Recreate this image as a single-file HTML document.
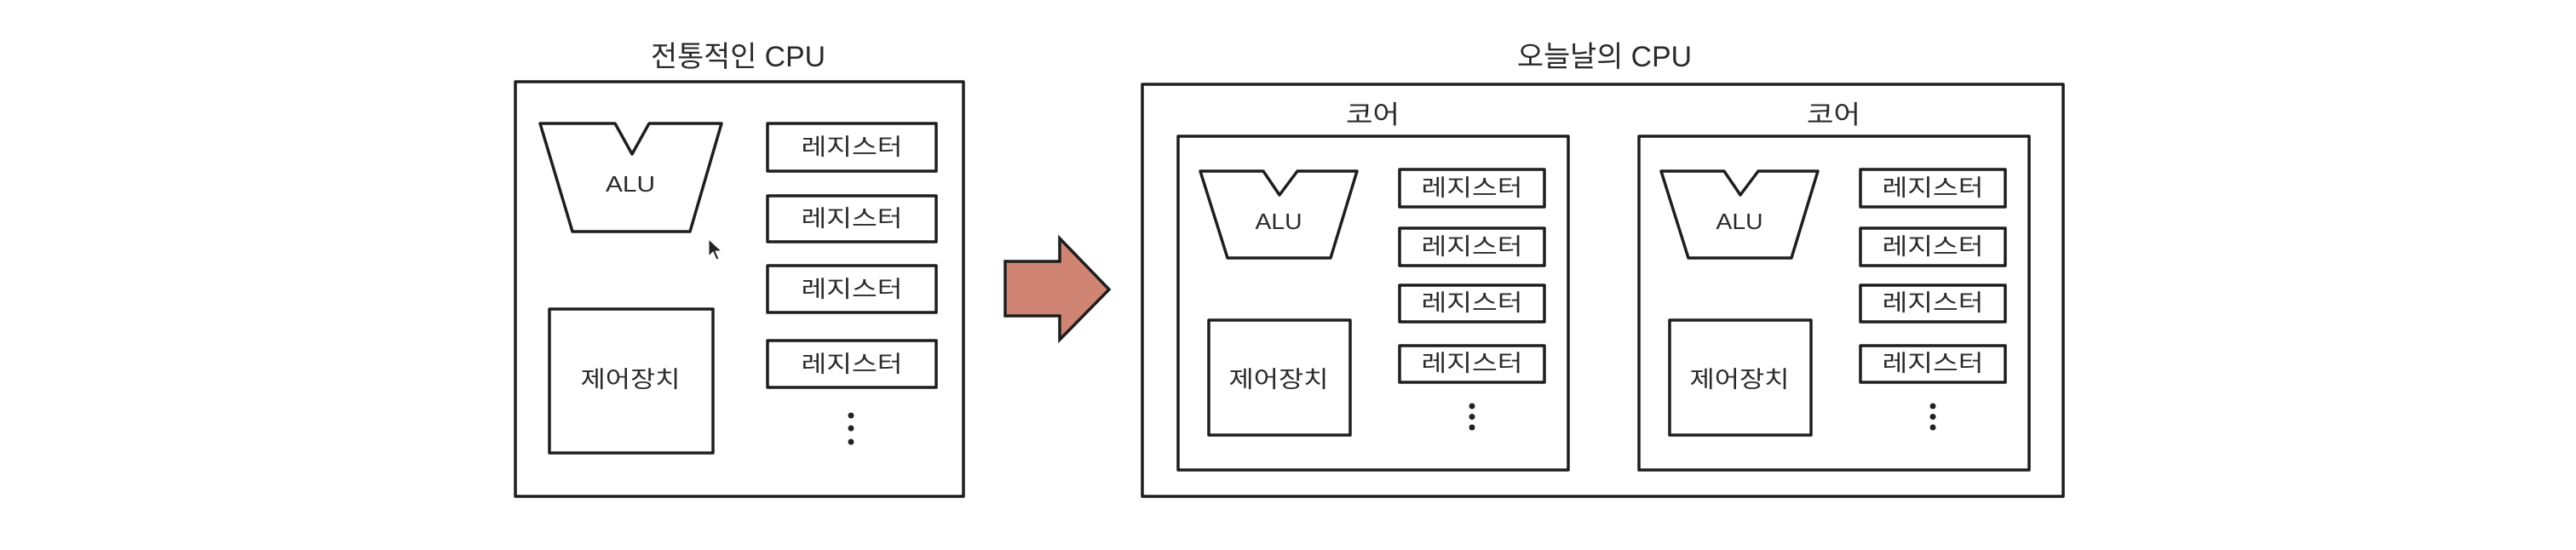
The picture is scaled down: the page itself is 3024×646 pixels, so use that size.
<!DOCTYPE html>
<html><head><meta charset="utf-8"><style>
html,body{margin:0;padding:0;background:#fff;}
svg{display:block;}
text{font-family:"Liberation Sans","Noto Sans CJK KR",sans-serif;fill:#2a2a2a;}
</style></head><body>
<svg width="3024" height="646" viewBox="0 0 3024 646" xmlns="http://www.w3.org/2000/svg">
<rect width="3024" height="646" fill="#fff"/>
<g fill="none" stroke="#1e1e1e" stroke-width="3.5" stroke-linejoin="round">
<!-- left CPU -->
<rect x="605" y="96" width="526" height="487"/>
<polygon points="634,145 722,145 742,181 762,145 847,145 810,272 672,272"/>
<rect x="901" y="145" width="198" height="56"/>
<rect x="901" y="230" width="198" height="54"/>
<rect x="901" y="312" width="198" height="55"/>
<rect x="901" y="400" width="198" height="55"/>
<rect x="645" y="363" width="192" height="169"/>
<!-- right CPU -->
<rect x="1341" y="99" width="1081" height="484"/>
<g id="core">
<rect x="1383" y="160" width="458" height="392"/>
<polygon points="1409,201 1483,201 1502,229 1523,201 1593,201 1562,303 1441,303"/>
<rect x="1643" y="199" width="170" height="44"/>
<rect x="1643" y="268" width="170" height="44"/>
<rect x="1643" y="335" width="170" height="43"/>
<rect x="1643" y="406" width="170" height="43"/>
<rect x="1419" y="376" width="166" height="135"/>
</g>
<use href="#core" x="541"/>
</g>
<!-- arrow -->
<polygon points="1180,307 1244,307 1244,280 1302,340 1244,399 1244,371 1180,371" fill="#d08574" stroke="#1e1e1e" stroke-width="3.5" stroke-linejoin="miter"/>
<!-- cursor -->
<polygon points="832,281 832,301 837,296 841,305 844,304 840,295 847,295" fill="#222" stroke="#fff" stroke-width="1"/>
<!-- dots -->
<g fill="#222">
<circle cx="999" cy="488" r="3.5"/><circle cx="999" cy="503" r="3.5"/><circle cx="999" cy="519" r="3.5"/>
<circle cx="1728" cy="477" r="3.5"/><circle cx="1728" cy="489.5" r="3.5"/><circle cx="1728" cy="502" r="3.5"/>
<circle cx="2269" cy="477" r="3.5"/><circle cx="2269" cy="489.5" r="3.5"/><circle cx="2269" cy="502" r="3.5"/>
</g>
<!-- text -->
<text x="764" y="78" font-size="34" textLength="205" lengthAdjust="spacingAndGlyphs">전통적인 CPU</text>
<text x="1781" y="78" font-size="34" textLength="205" lengthAdjust="spacingAndGlyphs">오늘날의 CPU</text>
<text x="1580" y="145" font-size="30" textLength="63" lengthAdjust="spacingAndGlyphs">코어</text>
<text x="2121" y="145" font-size="30" textLength="63" lengthAdjust="spacingAndGlyphs">코어</text>
<g font-size="26" text-anchor="middle">
<text x="740" y="225" textLength="58" lengthAdjust="spacingAndGlyphs">ALU</text>
<text x="1501" y="269" textLength="55" lengthAdjust="spacingAndGlyphs">ALU</text>
<text x="2042" y="269" textLength="55" lengthAdjust="spacingAndGlyphs">ALU</text>
</g>
<g font-size="27" text-anchor="middle">
<text x="1000" y="182" textLength="119" lengthAdjust="spacingAndGlyphs">레지스터</text>
<text x="1000" y="266" textLength="119" lengthAdjust="spacingAndGlyphs">레지스터</text>
<text x="1000" y="349" textLength="119" lengthAdjust="spacingAndGlyphs">레지스터</text>
<text x="1000" y="437" textLength="119" lengthAdjust="spacingAndGlyphs">레지스터</text>
<text x="1728" y="230" textLength="119" lengthAdjust="spacingAndGlyphs">레지스터</text>
<text x="1728" y="299" textLength="119" lengthAdjust="spacingAndGlyphs">레지스터</text>
<text x="1728" y="365" textLength="119" lengthAdjust="spacingAndGlyphs">레지스터</text>
<text x="1728" y="436" textLength="119" lengthAdjust="spacingAndGlyphs">레지스터</text>
<text x="2269" y="230" textLength="119" lengthAdjust="spacingAndGlyphs">레지스터</text>
<text x="2269" y="299" textLength="119" lengthAdjust="spacingAndGlyphs">레지스터</text>
<text x="2269" y="365" textLength="119" lengthAdjust="spacingAndGlyphs">레지스터</text>
<text x="2269" y="436" textLength="119" lengthAdjust="spacingAndGlyphs">레지스터</text>
<text x="740" y="455" textLength="117" lengthAdjust="spacingAndGlyphs">제어장치</text>
<text x="1501" y="455" textLength="117" lengthAdjust="spacingAndGlyphs">제어장치</text>
<text x="2042" y="455" textLength="117" lengthAdjust="spacingAndGlyphs">제어장치</text>
</g>
</svg>
</body></html>
